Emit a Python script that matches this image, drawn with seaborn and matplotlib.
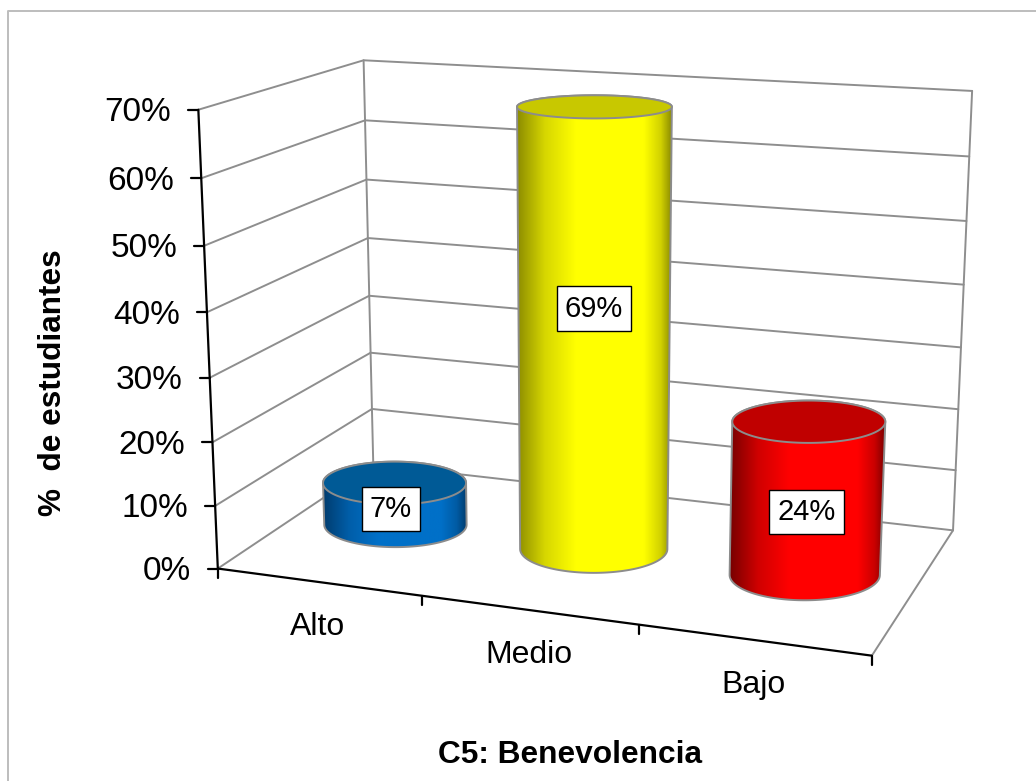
# C5: Benevolencia - 3D cylinder column chart
import numpy as np
import pandas as pd
import matplotlib
matplotlib.use('Agg')
import matplotlib.pyplot as plt
import seaborn as sns
from matplotlib.colors import LinearSegmentedColormap
from matplotlib.patches import Polygon

# data
categories = ['Alto', 'Medio', 'Bajo']
values = [7, 69, 24]
value_labels = ['7%', '69%', '24%']
y_ticks = [0, 10, 20, 30, 40, 50, 60, 70]
y_tick_labels = ['0%', '10%', '20%', '30%', '40%', '50%', '60%', '70%']
x_title = 'C5: Benevolencia'
y_title = '%  de estudiantes'

# colours: side, top, shaded edge
body_colors = ['#0070c8', '#ffff00', '#ff0000']
top_colors = ['#005a96', '#c8c800', '#c00000']
edge_colors = ['#003c6e', '#8c8c00', '#780000']

# config
grid_color = '#8e8e8e'
outline_color = '#8c8c8c'
radius_x = [0.37, 0.36, 0.345]
radius_y = 0.21
# data label nudge in pixels, excel does not centre them exactly
label_nudge = [(-4, 5), (0, -25), (0, 13)]

sns.set_theme(style='white')
plt.rcParams['font.family'] = ['Liberation Sans', 'DejaVu Sans']

#####################
# camera: (category, depth, value) -> picture pixel
#####################
model = [(0, 0, 0), (0, 0, 70), (3, 0, 0), (3, 1, 0), (3, 1, 70), (0, 1, 0), (0, 1, 70)]
image = [(218, 568), (198, 110), (872, 656), (953, 530), (972, 91), (373, 465), (364, 60)]
rows = []
for (X, Y, Z), (u, v) in zip(model, image):
    rows.append([X, Y, Z, 1, 0, 0, 0, 0, -u * X, -u * Y, -u * Z, -u])
    rows.append([0, 0, 0, 0, X, Y, Z, 1, -v * X, -v * Y, -v * Z, -v])
cam = np.linalg.svd(np.array(rows, dtype=float))[2][-1].reshape(3, 4)


def project(x, y, z):
    x, y, z = np.broadcast_arrays(x, y, z)
    p = cam @ np.vstack([x.ravel(), y.ravel(), z.ravel(), np.ones(x.size)])
    return p[0] / p[2], p[1] / p[2]


def hull(pts):
    pts = sorted(map(tuple, pts))
    def half(seq):
        out = []
        for p in seq:
            while len(out) > 1 and ((out[-1][0] - out[-2][0]) * (p[1] - out[-2][1]) -
                                    (out[-1][1] - out[-2][1]) * (p[0] - out[-2][0])) <= 0:
                out.pop()
            out.append(p)
        return out[:-1]
    return np.array(half(pts) + half(pts[::-1]))


def flat_ellipse(xc, rx, z):
    # cylinder cap, drawn level like the office charts do
    ex, _ = project([xc - rx, xc + rx], [0.5, 0.5], [z, z])
    _, ey = project([xc, xc], [0.5 - radius_y, 0.5 + radius_y], [z, z])
    mx, my = project(xc, 0.5, z)
    a = abs(ex[1] - ex[0]) / 2
    b = abs(ey[1] - ey[0]) / 2
    t = np.linspace(0, 2 * np.pi, 241)
    return mx[0] + a * np.cos(t), my[0] + b * np.sin(t)


fig = plt.figure(figsize=(10.36, 7.81), dpi=100)
ax = fig.add_axes([0, 0, 1, 1])

#####################
# walls and grid
#####################
lines = []
for k, t in enumerate(y_ticks):
    px, py = project([0, 0, 3], [0, 1, 1], [t, t, t])
    lines.append(pd.DataFrame({'line': k, 'px': px, 'py': py}))
# back wall verticals and the floor edge
px, py = project([0, 0], [1, 1], [0, 70])
lines.append(pd.DataFrame({'line': 100, 'px': px, 'py': py}))
px, py = project([3, 3], [1, 1], [0, 70])
lines.append(pd.DataFrame({'line': 101, 'px': px, 'py': py}))
px, py = project([3, 3], [0, 1], [0, 0])
lines.append(pd.DataFrame({'line': 102, 'px': px, 'py': py}))
sns.lineplot(data=pd.concat(lines), x='px', y='py', units='line', estimator=None, sort=False,
             color=grid_color, linewidth=1.4, legend=False, ax=ax, zorder=1)

#####################
# axes and ticks
#####################
px, py = project([0, 0], [0, 0], [0, 70])
ax.plot(px, py, color='black', lw=1.6, zorder=2)
px, py = project([0, 3], [0, 0], [0, 0])
ax.plot(px, py, color='black', lw=1.6, zorder=2)

for t, lab in zip(y_ticks, y_tick_labels):
    tx, ty = project(0, 0, t)
    ax.plot([tx[0] - 10, tx[0]], [ty[0], ty[0]], color='black', lw=1.6, zorder=2)
    ax.text(tx[0] - 27, ty[0] + 3, lab, ha='right', va='center', fontsize=24, color='black')

for i in range(len(categories) + 1):
    tx, ty = project(i, 0, 0)
    ax.plot([tx[0], tx[0]], [ty[0], ty[0] + 9], color='black', lw=1.6, zorder=2)

for i, lab in enumerate(categories):
    tx, ty = project(i + 0.5, 0, 0)
    ax.text(tx[0], ty[0] + 45, lab, ha='center', va='center', fontsize=23, color='black')

#####################
# cylinders
#####################
stops = [0, 0.18, 0.38, 0.82, 0.93, 1]
for i, v in enumerate(values):
    bx, by = flat_ellipse(i + 0.5, radius_x[i], 0)
    tx, ty = flat_ellipse(i + 0.5, radius_x[i], v)
    shape = hull(np.column_stack([np.r_[bx, tx], np.r_[by, ty]]))

    body = np.array(matplotlib.colors.to_rgb(body_colors[i]))
    edge = np.array(matplotlib.colors.to_rgb(edge_colors[i]))
    cmap = LinearSegmentedColormap.from_list(
        'side', list(zip(stops, [edge, 0.35 * edge + 0.65 * body, body, body,
                                 0.4 * edge + 0.6 * body, edge])))
    left, right = shape[:, 0].min(), shape[:, 0].max()
    im = ax.imshow(np.linspace(0, 1, 256).reshape(1, -1), cmap=cmap, aspect='auto',
                   extent=[left, right, shape[:, 1].max(), shape[:, 1].min()], zorder=3 + i)
    outline = Polygon(shape, closed=True, facecolor='none', edgecolor=outline_color, lw=1.4,
                      zorder=3 + i)
    ax.add_patch(outline)
    im.set_clip_path(outline)
    ax.fill(tx, ty, facecolor=top_colors[i], edgecolor=outline_color, lw=1.4, zorder=3 + i)

    lx, ly = project(i + 0.5, 0.5, v / 2)
    ax.text(lx[0] + label_nudge[i][0], ly[0] + label_nudge[i][1], value_labels[i], ha='center',
            va='center', fontsize=21, color='black', zorder=10,
            bbox=dict(boxstyle='square,pad=0.28', facecolor='white', edgecolor='black', lw=1))

#####################
# titles and frame
#####################
ax.text(570, 755, x_title, ha='center', va='center', fontsize=22.8, fontweight='bold', color='black')
ax.text(53, 383, y_title, rotation=90, ha='center', va='center', fontsize=22.7, fontweight='bold',
        color='black')
ax.plot([8, 8, 1036], [781, 11, 11], color='#bdbdbd', lw=1.4, zorder=0)

ax.set_xlim(0, 1036)
ax.set_ylim(781, 0)
ax.axis('off')
fig.savefig('out.png', dpi=100, facecolor='white')
